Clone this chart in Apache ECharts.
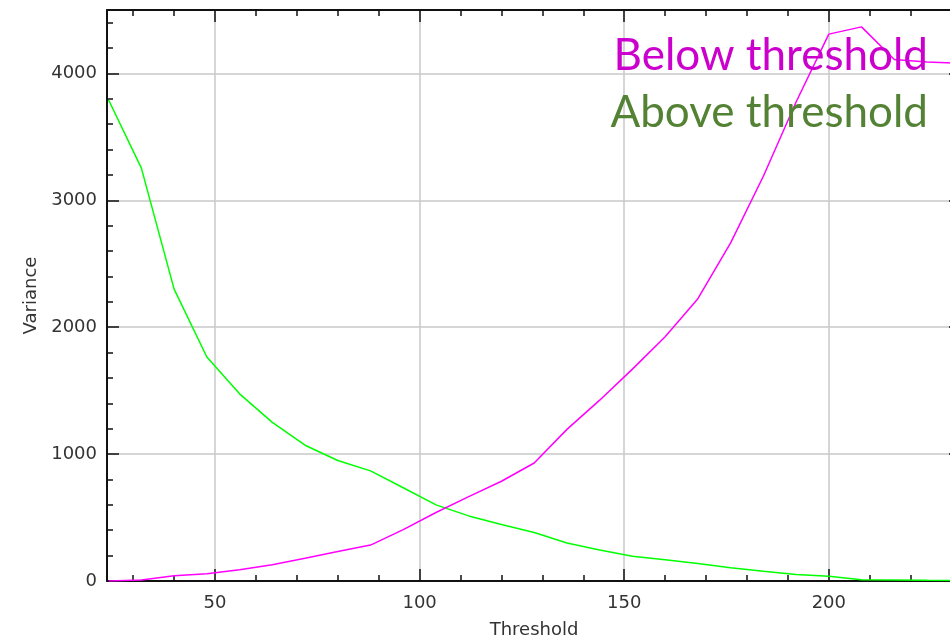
<!DOCTYPE html>
<html><head><meta charset="utf-8">
<script src="https://cdn.jsdelivr.net/npm/echarts@6/dist/echarts.min.js"></script>
<style>html,body{margin:0;padding:0;overflow:hidden;background:#fff;width:950px;height:637px}#c{width:962px;height:637px}</style>
</head><body><div id="c"></div><script>
const thresholds    = [24,32,40,48,56,64,72,80,88,96,104,112,120,128,136,144,152,160,168,176,184,192,200,208,216,224,232];
const belowVariance = [0,8,42,57,88,128,180,233,283,405,540,665,786,930,1195,1425,1670,1925,2225,2665,3190,3775,4310,4367,4110,4090,4080];
const aboveVariance = [3791,3254,2300,1765,1475,1250,1070,950,868,735,600,513,445,382,300,245,195,168,137,104,77,51,38,10,8,5,4];
const xMajorTicks = [50,100,150,200];
const xMinorTicks = [30,40,60,70,80,90,110,120,130,140,160,170,180,190,210,220,230];
const yMajorTicks = [0,1000,2000,3000,4000];
const yMinorTicks = [200,400,600,800,1200,1400,1600,1800,2200,2400,2600,2800,3200,3400,3600,3800,4200,4400];

const X_MIN = 23.6, X_MAX = 232.3, Y_MIN = 0, Y_MAX = 4500;
const AX = '#111', GRIDC = '#c8c8c8', LABC = '#333', FONT = 'DejaVu Sans';

function xAx(pos, ticks, len, opts) {
  return Object.assign({
    type: 'value', min: X_MIN, max: X_MAX, position: pos,
    axisLine: {show: false, onZero: false},
    axisTick: {show: true, inside: true, length: len, customValues: ticks, lineStyle: {color: AX, width: 1.5}},
    axisLabel: {show: false},
    splitLine: {show: false}
  }, opts || {});
}
function yAx(pos, ticks, len, opts) {
  return Object.assign({
    type: 'value', min: Y_MIN, max: Y_MAX, position: pos,
    axisLine: {show: false, onZero: false},
    axisTick: {show: true, inside: true, length: len, customValues: ticks, lineStyle: {color: AX, width: 1.5}},
    axisLabel: {show: false},
    splitLine: {show: false}
  }, opts || {});
}

const chart = echarts.init(document.getElementById('c'), null, {renderer: 'canvas'});
chart.setOption({
  animation: false,
  backgroundColor: '#fff',
  grid: {left: 107, right: 1, top: 10, bottom: 56, containLabel: false, outerBoundsMode: 'none'},
  xAxis: [
    xAx('bottom', xMajorTicks, 12, {
      axisLine: {show: true, onZero: false, lineStyle: {color: AX, width: 2}},
      axisLabel: {show: true, customValues: xMajorTicks, margin: 13, color: LABC, fontFamily: FONT, fontSize: 18,
                  formatter: v => String(v)},
      splitLine: {show: true, lineStyle: {color: GRIDC, width: 1.5}},
      name: 'Threshold', nameLocation: 'middle', nameGap: 40,
      nameTextStyle: {color: LABC, fontFamily: FONT, fontSize: 18}
    }),
    xAx('bottom', xMinorTicks, 6),
    xAx('top', xMajorTicks, 12, {axisLine: {show: true, onZero: false, lineStyle: {color: AX, width: 2}}}),
    xAx('top', xMinorTicks, 6)
  ],
  yAxis: [
    yAx('left', yMajorTicks, 12, {
      axisLine: {show: true, onZero: false, lineStyle: {color: AX, width: 2}},
      axisLabel: {show: true, customValues: yMajorTicks, margin: 10, color: LABC, fontFamily: FONT, fontSize: 18,
                  formatter: v => String(v)},
      splitLine: {show: true, lineStyle: {color: GRIDC, width: 1.5}},
      name: 'Variance', nameLocation: 'middle', nameGap: 60, nameRotate: 90,
      nameTextStyle: {color: LABC, fontFamily: FONT, fontSize: 18}
    }),
    yAx('left', yMinorTicks, 6),
    yAx('right', yMajorTicks, 12, {axisLine: {show: true, onZero: false, lineStyle: {color: AX, width: 2}}}),
    yAx('right', yMinorTicks, 6)
  ],
  legend: [
    {data: [{name: 'Below threshold', textStyle: {color: '#CC00CC'}}], right: 34, top: 34, orient: 'vertical',
     icon: 'rect', itemWidth: 0, itemHeight: 0, padding: 0, selectedMode: false,
     textStyle: {fontFamily: 'Lato', fontSize: 44}},
    {data: [{name: 'Above threshold', textStyle: {color: '#548235'}}], right: 34, top: 91, orient: 'vertical',
     icon: 'rect', itemWidth: 0, itemHeight: 0, padding: 0, selectedMode: false,
     textStyle: {fontFamily: 'Lato', fontSize: 44}}
  ],
  series: [
    {name: 'Below threshold', type: 'line', xAxisIndex: 0, yAxisIndex: 0, showSymbol: false, symbol: 'none',
     data: thresholds.map((t, i) => [t, belowVariance[i]]), lineStyle: {color: '#FF00FF', width: 1.5}, itemStyle: {color: '#FF00FF'}, z: 3},
    {name: 'Above threshold', type: 'line', xAxisIndex: 0, yAxisIndex: 0, showSymbol: false, symbol: 'none',
     data: thresholds.map((t, i) => [t, aboveVariance[i]]), lineStyle: {color: '#00FF00', width: 1.5}, itemStyle: {color: '#00FF00'}, z: 2}
  ]
});
</script></body></html>
